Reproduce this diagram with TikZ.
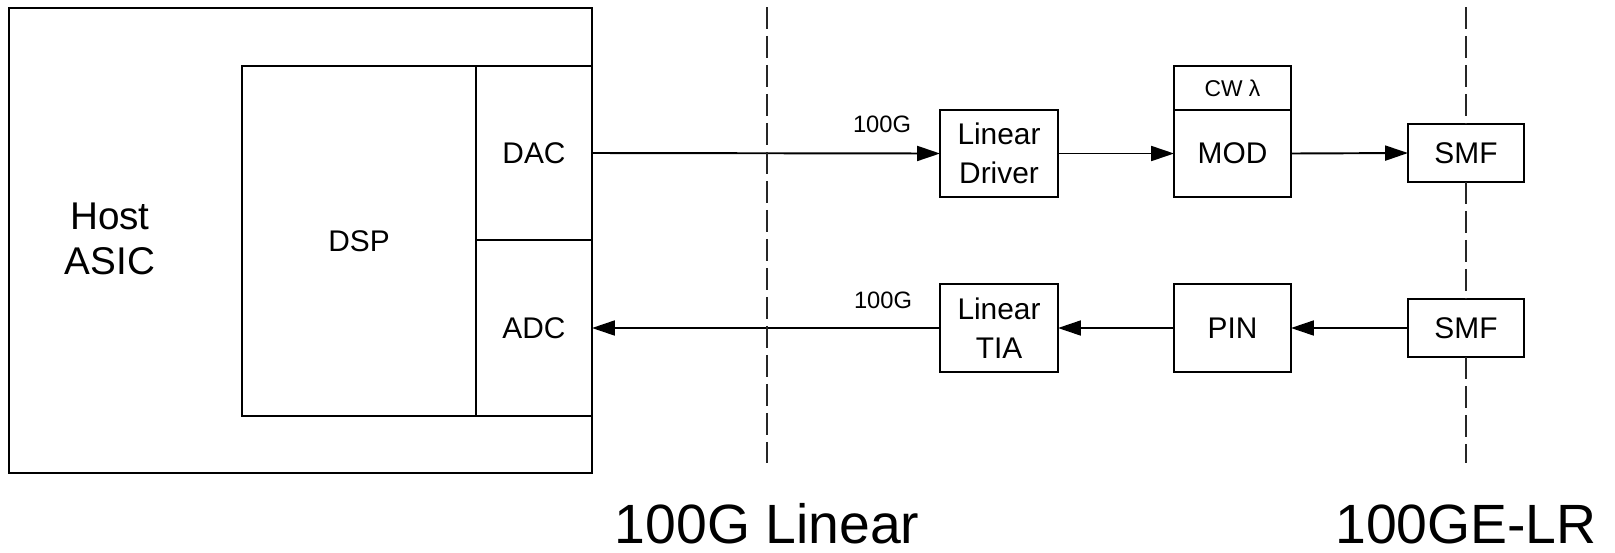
\documentclass[tikz,border=0pt]{standalone}
\usepackage{fontspec}
\setmainfont{Liberation Sans}
\usetikzlibrary{arrows.meta,positioning}
\tikzset{
  bloque/.style={draw, line width=1.1pt, inner sep=0pt, outer sep=0pt, align=center,
    font=\fontsize{17}{22}\selectfont},
  flecha/.style={line width=1.1pt, -{Triangle[length=13pt,width=8.5pt]}},
  frontera/.style={line width=1.1pt, dash pattern=on 12.5pt off 4pt, black!85},
  etiqueta/.style={inner sep=0pt, font=\fontsize{13.5}{15}\selectfont},
  titulo/.style={inner sep=0pt, anchor=base, font=\fontsize{31.5}{36}\selectfont}
}
\begin{document}
\begin{tikzpicture}[x=0.02cm, y=-0.02cm]
    \useasboundingbox (0,0) rectangle (1615,552);

    % Host ASIC
    \node[bloque, minimum width=11.66cm, minimum height=9.30cm] (host) at (300.5,240.5) {};
    \node[inner sep=0pt, align=center, font=\fontsize{22}{26}\selectfont] (hostlabel) at (110,239) {Host\\ASIC};

    % DSP, DAC y ADC
    \node[bloque, minimum width=4.68cm, minimum height=7.0cm] (dsp) at (359,241) {DSP};
    \node[bloque, minimum width=2.32cm, minimum height=3.48cm] (dac) at (534,153) {DAC};
    \node[bloque, minimum width=2.32cm, minimum height=3.52cm] (adc) at (534,328) {ADC};

    % Fila de transmision
    \node[bloque, minimum width=2.36cm, minimum height=1.74cm] (driver) at (999,153.5) {Linear\\Driver};
    \node[bloque, minimum width=2.34cm, minimum height=1.74cm] (mod) at (1232.5,153.5) {MOD};
    \node[bloque, minimum width=2.34cm, minimum height=0.88cm, font=\fontsize{13}{15}\selectfont] (cw) at (1232.5,88) {CW λ};
    \node[bloque, minimum width=2.32cm, minimum height=1.16cm] (smftx) at (1466,153) {SMF};

    % Fila de recepcion
    \node[bloque, minimum width=2.36cm, minimum height=1.76cm] (tia) at (999,328) {Linear\\TIA};
    \node[bloque, minimum width=2.34cm, minimum height=1.76cm] (pin) at (1232.5,328) {PIN};
    \node[bloque, minimum width=2.32cm, minimum height=1.16cm] (smfrx) at (1466,328) {SMF};

    % Flechas
    \draw[flecha] (dac.east) -- (driver.west);
    \draw[flecha] (driver.east) -- (mod.west);
    \draw[flecha] (mod.east) -- (smftx.west);
    \draw[flecha] (smfrx.west) -- (pin.east);
    \draw[flecha] (pin.west) -- (tia.east);
    \draw[flecha] (tia.west) -- (adc.east);

    % Etiquetas 100G
    \node[etiqueta] (gtx) at (882,124) {100G};
    \node[etiqueta] (grx) at (883,300) {100G};

    % Fronteras
    \coordinate (lina) at (767,7);
    \coordinate (linb) at (767,463);
    \draw[frontera] (lina) -- (linb);
    \coordinate (lra) at (1466,7);
    \coordinate (lrb) at (1466,463);
    \draw[frontera] (lra) -- (smftx.north);
    \draw[frontera] (smftx.south) -- (smfrx.north);
    \draw[frontera] (smfrx.south) -- (lrb);

    % Titulos
    \node[titulo] (tlin) at (767,543) {100G Linear};
    \node[titulo] (tlr) at (1466,543) {100GE-LR};
\end{tikzpicture}
\end{document}
